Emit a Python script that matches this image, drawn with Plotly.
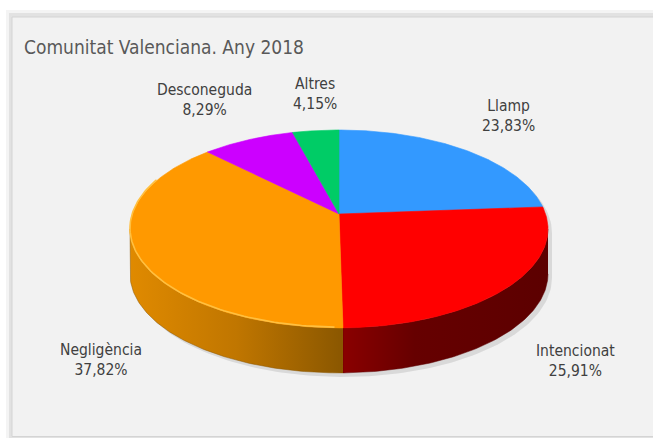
import numpy as np
import plotly.graph_objects as go

# ---- data ----
categories = ["Llamp", "Intencionat", "Negligència", "Desconeguda", "Altres"]
values = [23.83, 25.91, 37.82, 8.29, 4.15]
value_labels = ["23,83%", "25,91%", "37,82%", "8,29%", "4,15%"]
title_text = "Comunitat Valenciana. Any 2018"

# ---- styling / geometry (page pixels) ----
W, H = 653, 438
CX, CY = 339.0, 214.0      # apex of the pie top face
SH, SV = 206.6, 96.7       # horizontal / vertical scale of the projected disc
K = 0.151                  # perspective strength
DEPTH = 45.0               # thickness of the disc
top_colors = ["#3399FF", "#FF0000", "#FF9900", "#CC00FF", "#00CC66"]
side_scales = {
    "Intencionat": [[0, "#8a0000"], [0.35, "#660000"], [1, "#5c0000"]],
    "Negligència": [[0, "#e08a00"], [0.5, "#c07600"], [1, "#8a5700"]],
}
label_pos = {  # annotation anchor (centre of text block)
    "Llamp": (508, 116), "Intencionat": (575, 361), "Negligència": (101, 360),
    "Desconeguda": (204, 100), "Altres": (315, 94),
}
FONT = "Liberation Sans Narrow, DejaVu Sans Condensed, Arial Narrow, sans-serif"


def proj(theta_deg, r=1.0):
    t = np.radians(theta_deg)
    X, Z = r * np.sin(t), r * np.cos(t)
    w = 1 + K * Z
    return CX + SH * X / w, CY - SV * Z / w


total = sum(values)
bounds = np.concatenate([[0], np.cumsum(values) / total * 360])
vis_lo = np.degrees(np.arccos(-K))          # silhouette tangent points
vis_hi = 360 - vis_lo

fig = go.Figure()

# page shadow band and panel background
fig.add_shape(type="rect", x0=6, y0=10, x1=W + 20, y1=H + 20, xref="x", yref="y",
              fillcolor="#f4f4f4", line=dict(width=0), layer="below")
fig.add_shape(type="rect", x0=9, y0=13, x1=W + 20, y1=H + 20, xref="x", yref="y",
              fillcolor="#e2e2e2", line=dict(width=0), layer="below")
fig.add_shape(type="rect", x0=12, y0=17, x1=W + 20, y1=H - 1.5, xref="x", yref="y",
              fillcolor="#f2f2f2", line=dict(color="#d4d4d4", width=1), layer="below")

# soft shadow of the disc
ts = np.linspace(vis_lo, vis_hi, 120)
bx, by = proj(ts)
tb = np.linspace(vis_hi, 360 + vis_lo, 120)
tx, ty = proj(tb)
sx = np.concatenate([bx, tx]) + 4
sy = np.concatenate([by + DEPTH, ty]) + 4
fig.add_trace(go.Scatter(x=sx, y=sy, mode="lines", fill="toself", line=dict(width=0),
                         fillcolor="rgba(0,0,0,0.10)", hoverinfo="skip", showlegend=False))

# side walls
for i, cat in enumerate(categories):
    a, b = max(bounds[i], vis_lo), min(bounds[i + 1], vis_hi)
    if b <= a:
        continue
    t = np.linspace(a, b, 100)
    x, y = proj(t)
    px = np.concatenate([x, x[::-1]])
    py = np.concatenate([y, (y + DEPTH)[::-1]])
    scale = side_scales.get(cat, [[0, "#555"], [1, "#333"]])
    fig.add_trace(go.Scatter(x=px, y=py, mode="lines", fill="toself",
                             line=dict(width=0.5, color=scale[-1][1]),
                             fillgradient=dict(type="horizontal", colorscale=scale),
                             hoverinfo="skip", showlegend=False))

# top faces
for i, cat in enumerate(categories):
    t = np.linspace(bounds[i], bounds[i + 1], 150)
    x, y = proj(t)
    px = np.concatenate([[CX], x, [CX]])
    py = np.concatenate([[CY], y, [CY]])
    fig.add_trace(go.Scatter(x=px, y=py, mode="lines", fill="toself",
                             line=dict(width=0.6, color=top_colors[i]),
                             fillcolor=top_colors[i], name=cat,
                             hoverinfo="skip", showlegend=False))

# rim highlight on the orange slice
i = categories.index("Negligència")
t = np.linspace(max(bounds[i], vis_lo) + 2, min(bounds[i + 1], vis_hi + 30), 100)
x, y = proj(t)
fig.add_trace(go.Scatter(x=x, y=y - 0.8, mode="lines", line=dict(width=1.6, color="#ffc040"),
                         hoverinfo="skip", showlegend=False))

# labels
for cat, lab in zip(categories, value_labels):
    lx, ly = label_pos[cat]
    fig.add_annotation(x=lx, y=ly, xref="x", yref="y", text=f"{cat}<br>{lab}",
                       showarrow=False, align="center",
                       font=dict(family=FONT, size=15.5, color="#404040"))

fig.add_annotation(x=22, y=47, xref="x", yref="y", text=title_text, showarrow=False,
                   xanchor="left", yanchor="middle",
                   font=dict(family=FONT, size=19, color="#595959"))

fig.update_layout(
    width=W, height=H, margin=dict(l=0, r=0, t=0, b=0),
    paper_bgcolor="#ffffff", plot_bgcolor="rgba(0,0,0,0)",
    xaxis=dict(range=[0, W], visible=False, fixedrange=True),
    yaxis=dict(range=[H, 0], visible=False, fixedrange=True),
)
fig.write_html("out.html", config={"displayModeBar": False},
               post_script="document.body.style.margin='0';document.body.style.overflow='hidden';")
